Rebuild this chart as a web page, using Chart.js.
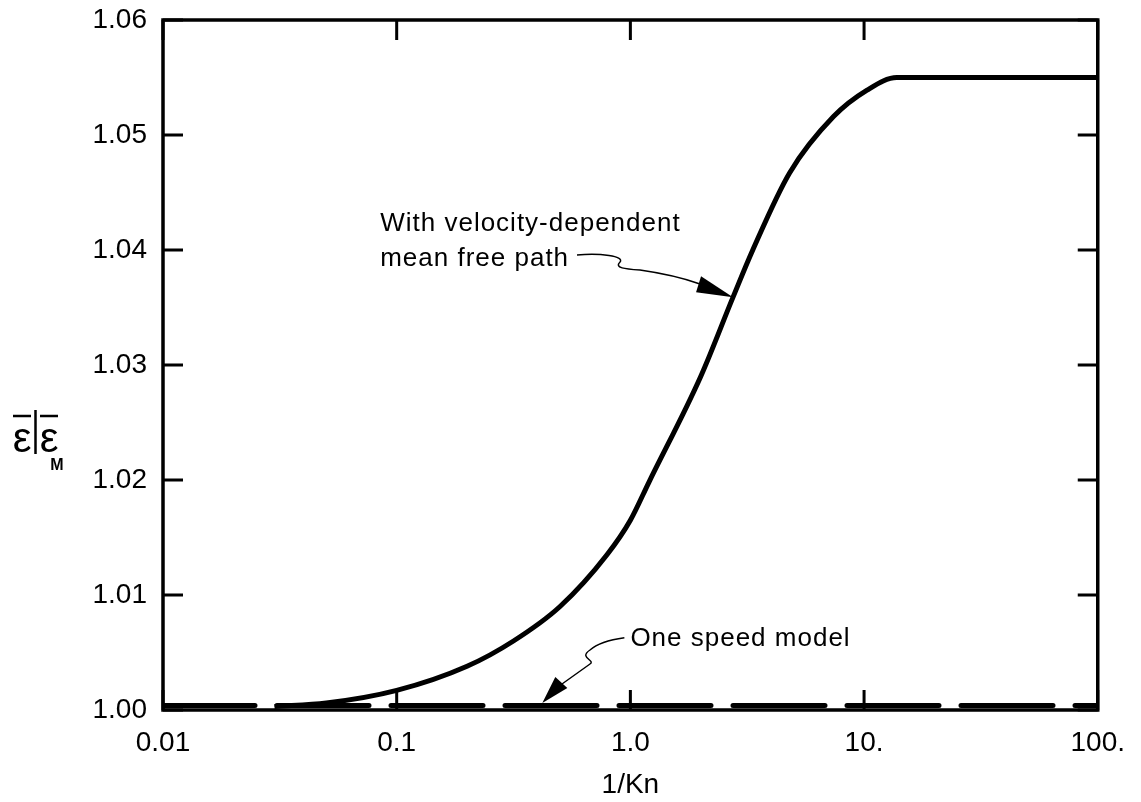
<!DOCTYPE html>
<html>
<head>
<meta charset="utf-8">
<script src="https://cdn.jsdelivr.net/npm/chart.js@4.4.0/dist/chart.umd.min.js"></script>
<style>
  html, body { margin: 0; padding: 0; background: #fff; }
  #wrap { width: 1141px; height: 802px; }
</style>
</head>
<body>
<div id="wrap"><canvas id="chart" width="1141" height="802"></canvas></div>
<script>
// Data
const velocityX = [0.03, 0.05, 0.1, 0.2, 0.316, 0.5, 0.794, 1.0, 1.2, 2.0, 2.75, 3.34, 4.8, 7.4, 10.3, 13.8, 100];
const velocityY = [1.0003, 1.0006, 1.0017, 1.0038, 1.0060, 1.0090, 1.0135, 1.0165, 1.0198, 1.0290, 1.0359, 1.0400, 1.0467, 1.0516, 1.0539, 1.0550, 1.0550];
const oneSpeedX = [0.01, 100];
const oneSpeedY = [1.0004, 1.0004];

const xTickValues = [0.01, 0.1, 1, 10, 100];
const xTickLabels = ['0.01', '0.1', '1.0', '10.', '100.'];
const yTickValues = [1.00, 1.01, 1.02, 1.03, 1.04, 1.05, 1.06];
const yTickLabels = ['1.00', '1.01', '1.02', '1.03', '1.04', '1.05', '1.06'];

const FONT = '"Liberation Sans", "DejaVu Sans", sans-serif';

// Frame with inward ticks on all four sides, plus annotations
const framePlugin = {
    id: 'frame',
    afterDatasetsDraw(chart) {
        const ctx = chart.ctx;
        const a = chart.chartArea;
        const xs = chart.scales.x;
        const ys = chart.scales.y;
        ctx.save();
        ctx.strokeStyle = '#000';
        ctx.lineWidth = 3.5;
        ctx.strokeRect(a.left, a.top, a.right - a.left, a.bottom - a.top);

        ctx.lineWidth = 3;
        const tl = 20;
        xTickValues.forEach(v => {
            const px = xs.getPixelForValue(v);
            ctx.beginPath();
            ctx.moveTo(px, a.bottom); ctx.lineTo(px, a.bottom - tl);
            ctx.moveTo(px, a.top); ctx.lineTo(px, a.top + tl);
            ctx.stroke();
        });
        yTickValues.forEach(v => {
            const py = ys.getPixelForValue(v);
            ctx.beginPath();
            ctx.moveTo(a.left, py); ctx.lineTo(a.left + tl, py);
            ctx.moveTo(a.right, py); ctx.lineTo(a.right - tl, py);
            ctx.stroke();
        });

        // annotation texts
        ctx.fillStyle = '#000';
        ctx.font = '26px ' + FONT;
        ctx.letterSpacing = '1px';
        ctx.textBaseline = 'middle';
        ctx.textAlign = 'left';
        const t1x = xs.getPixelForValue(0.085), t1y = ys.getPixelForValue(1.0423);
        ctx.fillText('With velocity-dependent', t1x, t1y);
        ctx.fillText('mean free path', t1x, t1y + 35);
        const t2x = xs.getPixelForValue(1.0), t2y = ys.getPixelForValue(1.0062);
        ctx.fillText('One speed model', t2x, t2y);
        ctx.letterSpacing = '0px';

        // arrow 1: wiggly line to a triangle pointing at the curve
        const tip1 = { x: xs.getPixelForValue(2.75), y: ys.getPixelForValue(1.0359) };
        ctx.lineWidth = 1.5;
        ctx.beginPath();
        ctx.moveTo(577, 255);
        ctx.bezierCurveTo(600, 253, 625, 256, 620, 262);
        ctx.bezierCurveTo(614, 268, 625, 269, 640, 270);
        ctx.quadraticCurveTo(675, 275, 700, 284);
        ctx.stroke();
        ctx.beginPath();
        ctx.moveTo(tip1.x, tip1.y);
        ctx.lineTo(tip1.x - 32, tip1.y - 21);
        ctx.lineTo(tip1.x - 37, tip1.y - 5);
        ctx.closePath();
        ctx.fill();

        // arrow 2
        const tip2 = { x: xs.getPixelForValue(0.42), y: ys.getPixelForValue(1.0006) };
        ctx.beginPath();
        ctx.moveTo(t2x - 6, t2y - 1);
        ctx.quadraticCurveTo(600, 641, 590, 650);
        ctx.bezierCurveTo(578, 658, 596, 660, 590, 664);
        ctx.lineTo(562, 684);
        ctx.stroke();
        ctx.beginPath();
        ctx.moveTo(tip2.x, tip2.y);
        ctx.lineTo(tip2.x + 13, tip2.y - 26);
        ctx.lineTo(tip2.x + 25, tip2.y - 15);
        ctx.closePath();
        ctx.fill();

        // y axis label: eps-bar | eps-bar with subscript M
        ctx.font = '42px ' + FONT;
        ctx.textAlign = 'center';
        ctx.textBaseline = 'alphabetic';
        ctx.fillText('\u03B5', 22, 452);
        ctx.fillText('\u03B5', 49, 452);
        ctx.lineWidth = 2.5;
        ctx.beginPath();
        ctx.moveTo(13, 416); ctx.lineTo(31, 416);
        ctx.moveTo(40, 416); ctx.lineTo(58, 416);
        ctx.moveTo(35.5, 410); ctx.lineTo(35.5, 454);
        ctx.stroke();
        ctx.font = 'bold 16px ' + FONT;
        ctx.fillText('M', 57, 470);
        ctx.restore();
    }
};

const ctx = document.getElementById('chart').getContext('2d');
new Chart(ctx, {
    type: 'line',
    data: {
        datasets: [
            {
                label: 'With velocity-dependent mean free path',
                data: velocityX.map((x, i) => ({ x: x, y: velocityY[i] })),
                borderColor: '#000',
                borderWidth: 5,
                pointRadius: 0,
                fill: false,
                cubicInterpolationMode: 'monotone'
            },
            {
                label: 'One speed model',
                data: oneSpeedX.map((x, i) => ({ x: x, y: oneSpeedY[i] })),
                borderColor: '#000',
                borderWidth: 5,
                borderDash: [92, 22],
                borderCapStyle: 'round',
                pointRadius: 0,
                fill: false
            }
        ]
    },
    options: {
        responsive: false,
        animation: false,
        layout: { padding: { top: 20, right: 43, left: 0, bottom: 0 } },
        plugins: {
            legend: { display: false },
            tooltip: { enabled: false }
        },
        scales: {
            x: {
                type: 'logarithmic',
                min: 0.01,
                max: 100,
                afterBuildTicks: scale => {
                    scale.ticks = xTickValues.map(v => ({ value: v }));
                },
                afterFit: scale => { scale.height = 92; },
                grid: { display: false, drawTicks: false },
                border: { display: false },
                ticks: {
                    color: '#000',
                    font: { family: FONT, size: 28 },
                    padding: 16,
                    maxRotation: 0,
                    autoSkip: false,
                    callback: (v) => {
                        const i = xTickValues.findIndex(t => Math.abs(t - v) / t < 1e-6);
                        return i >= 0 ? xTickLabels[i] : '';
                    }
                },
                title: {
                    display: true,
                    text: '1/Kn',
                    color: '#000',
                    font: { family: FONT, size: 28 },
                    padding: { top: 0, bottom: 0 }
                }
            },
            y: {
                min: 1.00,
                max: 1.06,
                afterBuildTicks: scale => {
                    scale.ticks = yTickValues.map(v => ({ value: v }));
                },
                afterFit: scale => {
                    scale.width = 163;
                    scale.paddingTop = 0;
                    scale.paddingBottom = 0;
                },
                grid: { display: false, drawTicks: false },
                border: { display: false },
                ticks: {
                    color: '#000',
                    font: { family: FONT, size: 28, lineHeight: 0.5 },
                    padding: 16,
                    callback: (v) => {
                        const i = yTickValues.findIndex(t => Math.abs(t - v) < 1e-6);
                        return i >= 0 ? yTickLabels[i] : '';
                    }
                }
            }
        }
    },
    plugins: [framePlugin]
});
</script>
</body>
</html>
